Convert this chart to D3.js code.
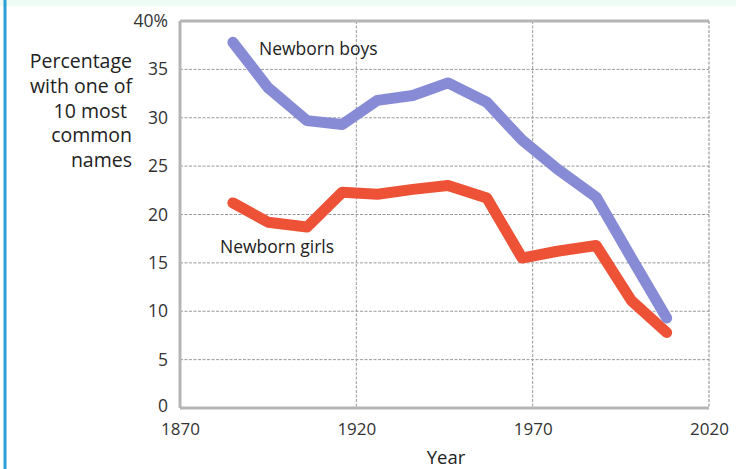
<!DOCTYPE html>
<html><head><meta charset="utf-8">
<script src="https://cdn.jsdelivr.net/npm/d3@7"></script>
<style>
html,body{margin:0;padding:0;background:#fff;}
svg{display:block;}
text{font-family:"Open Sans","Noto Sans",sans-serif;fill:#222;}
</style></head>
<body>
<svg id="c" width="736" height="469"></svg>
<script>
const years = [1885,1895,1906,1916,1926,1936,1946,1957,1967,1977,1988,1998,2008];
const boys  = [37.8,33.1,29.7,29.3,31.8,32.3,33.6,31.6,27.7,24.7,21.8,15.5,9.3];
const girls = [21.2,19.2,18.7,22.3,22.1,22.6,23.0,21.7,15.5,16.2,16.8,11.1,7.8];
const xTicks = [1870,1920,1970,2020];
const yTicks = [0,5,10,15,20,25,30,35,40];
const yTickLabels = ["0","5","10","15","20","25","30","35","40%"];
const yTitle = ["Percentage","with one of","10 most","common","names"];

const svg = d3.select("#c");
const x = d3.scaleLinear().domain([1870,2020]).range([180,709]);
const y = d3.scaleLinear().domain([0,40]).range([408,21]);

// page decorations
svg.append("rect").attr("x",0).attr("y",0).attr("width",736).attr("height",6).attr("fill","#effbf5");
svg.append("rect").attr("x",3.5).attr("y",0).attr("width",3).attr("height",469).attr("fill","#2a9fd8");

// grid
const g = svg.append("g");
g.selectAll("line.h").data(yTicks.filter(d=>d>0&&d<40)).join("line")
  .attr("x1",x(1870)).attr("x2",x(2020)).attr("y1",d=>y(d)).attr("y2",d=>y(d))
  .attr("stroke","#9a9a9a").attr("stroke-width",1).attr("stroke-dasharray","3,1.5");
g.selectAll("line.v").data(xTicks.filter(d=>d>1870&&d<2020)).join("line")
  .attr("x1",d=>x(d)).attr("x2",d=>x(d)).attr("y1",y(40)).attr("y2",y(0))
  .attr("stroke","#9a9a9a").attr("stroke-width",1).attr("stroke-dasharray","3,1.5");
// frame
g.append("line").attr("x1",x(1870)).attr("x2",x(2020)).attr("y1",y(40)).attr("y2",y(40)).attr("stroke","#b5b5b5").attr("stroke-width",3);
g.append("line").attr("x1",x(1870)).attr("x2",x(2020)).attr("y1",y(0)).attr("y2",y(0)).attr("stroke","#b5b5b5").attr("stroke-width",3);
g.append("line").attr("x1",x(1870)).attr("x2",x(1870)).attr("y1",y(40)).attr("y2",y(0)).attr("stroke","#b5b5b5").attr("stroke-width",3);
g.append("line").attr("x1",x(2020)).attr("x2",x(2020)).attr("y1",y(40)).attr("y2",y(0)).attr("stroke","#9a9a9a").attr("stroke-width",1.2).attr("stroke-dasharray","3,1.5");

// axes (labels only)
const xa = svg.append("g").attr("transform",`translate(0,${y(0)})`)
  .call(d3.axisBottom(x).tickValues(xTicks).tickFormat(d3.format("d")).tickSize(0).tickPadding(15));
xa.attr("font-size",null).attr("font-family",null);
xa.select(".domain").remove();
xa.selectAll("text").style("font-size","17px").style("fill","#333");

const ya = svg.append("g").attr("transform",`translate(${x(1870)},0)`)
  .call(d3.axisLeft(y).tickValues(yTicks).tickFormat((d,i)=>yTickLabels[i]).tickSize(0).tickPadding(12));
ya.attr("font-size",null).attr("font-family",null);
ya.select(".domain").remove();
ya.selectAll("text").style("font-size","17.5px").style("fill","#333");
ya.selectAll("text").filter(d=>d===0).attr("dy","0.2em");

// y title
svg.append("text").attr("text-anchor","end").style("font-size","19.5px")
  .selectAll("tspan").data(yTitle).join("tspan")
  .attr("x",(d,i)=> i===2 ? 127 : 132).attr("y",(d,i)=>68+i*24.8).text(d=>d);

// x title
svg.append("text").attr("x",446).attr("y",464).attr("text-anchor","middle").style("font-size","18.5px").text("Year");

// lines
const line = d3.line().x(d=>x(d[0])).y(d=>y(d[1]));
svg.append("path").datum(years.map((yr,i)=>[yr,girls[i]])).attr("d",line)
  .attr("fill","none").attr("stroke","#ee5236").attr("stroke-width",11)
  .attr("stroke-linejoin","round").attr("stroke-linecap","round");
svg.append("path").datum(years.map((yr,i)=>[yr,boys[i]])).attr("d",line)
  .attr("fill","none").attr("stroke","#878bd6").attr("stroke-width",11)
  .attr("stroke-linejoin","round").attr("stroke-linecap","round");

// labels
svg.append("text").attr("x",259).attr("y",55).style("font-size","17.5px").text("Newborn boys");
svg.append("text").attr("x",220).attr("y",253).style("font-size","17.5px").text("Newborn girls");
</script>
</body></html>
